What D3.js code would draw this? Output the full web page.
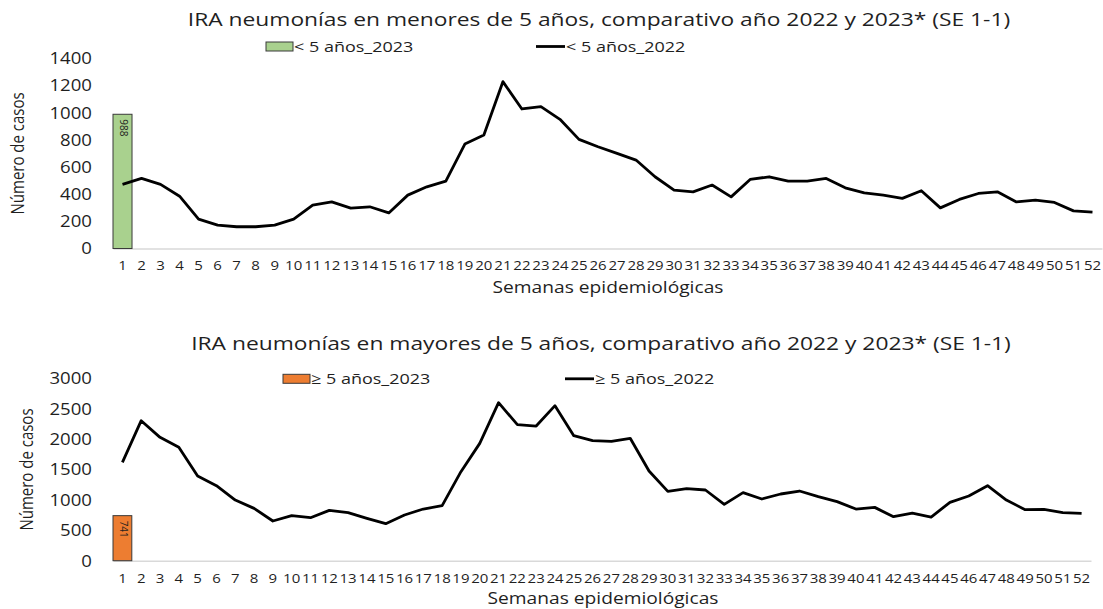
<!DOCTYPE html>
<html>
<head>
<meta charset="utf-8">
<script src="https://cdn.jsdelivr.net/npm/d3@7"></script>
<style>
  body { margin: 0; background: #fff; }
  svg { display: block; }
  text { font-family: "Open Sans", sans-serif; fill: #1f1f1f; }
</style>
</head>
<body>
<svg id="chart" width="1103" height="609"></svg>
<script>
// Semanas epidemiológicas
const weeks = ["1","2","3","4","5","6","7","8","9","10","11","12","13","14","15","16","17","18","19","20",
  "21","22","23","24","25","26","27","28","29","30","31","32","33","34","35","36","37","38","39","40",
  "41","42","43","44","45","46","47","48","49","50","51","52"];

// < 5 años
const under5_2022 = [472, 516, 472, 385, 216, 172, 160, 160, 172, 216, 319, 343, 297, 307, 262, 393, 454, 496, 769, 835,
  1228, 1027, 1044, 951, 803, 749, 700, 651, 528, 430, 417, 467, 380, 508, 528, 496, 496, 516, 447, 410,
  393, 369, 425, 299, 361, 405, 417, 343, 356, 339, 277, 268];
const under5_2023 = [988];
const under5Ticks = [0, 200, 400, 600, 800, 1000, 1200, 1400];

// >= 5 años
const over5_2022 = [1618, 2303, 2029, 1865, 1393, 1234, 998, 861, 653, 740, 707, 828, 790, 696, 609, 751, 850, 905, 1464, 1930,
  2599, 2238, 2215, 2550, 2056, 1974, 1963, 2013, 1475, 1141, 1185, 1163, 927, 1119, 1015, 1097, 1146, 1053, 971, 850,
  877, 724, 784, 718, 960, 1064, 1234, 998, 839, 844, 790, 779];
const over5_2023 = [741];
const over5Ticks = [0, 500, 1000, 1500, 2000, 2500, 3000];

// the reference text is rendered horizontally wider than the font
const SX = 1.2;

const svg = d3.select("#chart");

function drawPanel(p) {
  const g = svg.append("g");

  const x = d3.scaleBand().domain(weeks).range([p.left, p.right]).padding(0);
  const y = d3.scaleLinear().domain([0, p.ticks[p.ticks.length - 1]]).range([p.bottom, p.top]);
  const bw = x.bandwidth();

  // titulo
  g.append("text")
    .attr("transform", `translate(${p.titleX},${p.titleY}) scale(${SX},1)`)
    .attr("text-anchor", "middle")
    .style("font-size", "19px")
    .text(p.title);

  // eje x
  const xa = g.append("g")
    .attr("transform", `translate(0,${p.bottom})`)
    .call(d3.axisBottom(x).tickSize(0).tickPadding(13));
  xa.select(".domain").attr("stroke", "#d9d9d9").attr("stroke-width", 1.5);
  xa.selectAll("text")
    .style("font-size", "12.5px")
    .attr("transform", `scale(${SX},1)`);

  // eje y
  const ya = g.append("g")
    .attr("transform", `translate(${p.left},0)`)
    .call(d3.axisLeft(y).tickValues(p.ticks).tickFormat(d3.format("d")).tickSize(0));
  ya.select(".domain").remove();
  ya.selectAll("text")
    .style("font-size", "15.5px")
    .attr("x", -21 / SX)
    .attr("dy", "0.35em")
    .attr("transform", `scale(${SX},1)`);

  // barra 2023
  g.selectAll("rect.bar")
    .data(p.bars)
    .enter()
    .append("rect")
    .attr("class", "bar")
    .attr("x", (d, i) => x(weeks[i]))
    .attr("y", d => y(d))
    .attr("width", bw)
    .attr("height", d => p.bottom - y(d))
    .attr("fill", p.barColor)
    .attr("stroke", "#3a3a3a")
    .attr("stroke-width", 1);

  g.selectAll("text.barlabel")
    .data(p.bars)
    .enter()
    .append("text")
    .attr("class", "barlabel")
    .attr("transform", (d, i) => `translate(${x(weeks[i]) + bw / 2},${y(d) + 5}) rotate(90)`)
    .attr("text-anchor", "start")
    .attr("dominant-baseline", "middle")
    .style("font-size", "10px")
    .text(d => d);

  // linea 2022
  const line = d3.line()
    .x((d, i) => x(weeks[i]) + bw / 2)
    .y(d => y(d));
  g.append("path")
    .datum(p.line)
    .attr("d", line)
    .attr("fill", "none")
    .attr("stroke", "#000")
    .attr("stroke-width", 2.8)
    .attr("stroke-linejoin", "round");

  // leyenda
  g.append("rect")
    .attr("x", p.leg1X).attr("y", p.legY - 4.5)
    .attr("width", 27).attr("height", 9)
    .attr("fill", p.barColor)
    .attr("stroke", "#3a3a3a");
  g.append("text")
    .attr("transform", `translate(${p.leg1X + 28},${p.legY + 5}) scale(${SX},1)`)
    .style("font-size", "15px")
    .text(p.barName);
  g.append("line")
    .attr("x1", p.leg2X).attr("x2", p.leg2X + 29)
    .attr("y1", p.legY).attr("y2", p.legY)
    .attr("stroke", "#000").attr("stroke-width", 2.8);
  g.append("text")
    .attr("transform", `translate(${p.leg2X + 30},${p.legY + 5}) scale(${SX},1)`)
    .style("font-size", "15px")
    .text(p.lineName);

  // titulos de ejes
  g.append("text")
    .attr("transform", `translate(${p.yTitleX},${(p.top + p.bottom) / 2}) scale(${SX},1) rotate(-90)`)
    .attr("text-anchor", "middle")
    .attr("dominant-baseline", "middle")
    .style("font-size", "15px")
    .text("Número de casos");
  g.append("text")
    .attr("transform", `translate(${p.xTitleX},${p.xTitleY}) scale(${SX},1)`)
    .attr("text-anchor", "middle")
    .style("font-size", "16px")
    .text("Semanas epidemiológicas");
}

drawPanel({
  title: "IRA neumonías en menores de 5 años, comparativo año 2022 y 2023* (SE 1-1)",
  titleX: 599, titleY: 26,
  left: 113, right: 1102, top: 58.3, bottom: 248.5,
  ticks: under5Ticks,
  bars: under5_2023, line: under5_2022,
  barColor: "#a9d18e",
  barName: "< 5 años_2023", lineName: "< 5 años_2022",
  leg1X: 266, leg2X: 536, legY: 46.5,
  yTitleX: 19.6, xTitleX: 608, xTitleY: 293
});

drawPanel({
  title: "IRA neumonías en mayores de 5 años, comparativo año 2022 y 2023* (SE 1-1)",
  titleX: 601, titleY: 350,
  left: 113, right: 1091, top: 378.3, bottom: 560.7,
  ticks: over5Ticks,
  bars: over5_2023, line: over5_2022,
  barColor: "#ed7d31",
  barName: "≥ 5 años_2023", lineName: "≥ 5 años_2022",
  leg1X: 283, leg2X: 565, legY: 378.8,
  yTitleX: 28.6, xTitleX: 603, xTitleY: 604
});
</script>
</body>
</html>
